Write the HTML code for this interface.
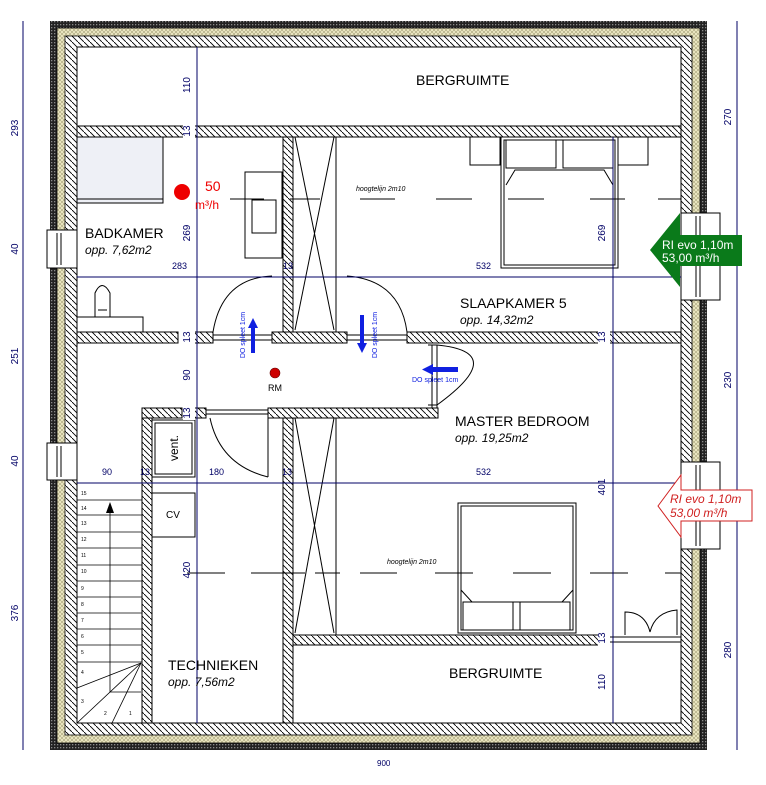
<!DOCTYPE html>
<html><head><meta charset="utf-8"><style>
html,body{margin:0;padding:0;background:#fff;}
svg{display:block;}
text{font-family:"Liberation Sans",sans-serif;}
</style></head><body>
<svg width="766" height="785" viewBox="0 0 766 785" xmlns="http://www.w3.org/2000/svg">
<defs>
<pattern id="h" patternUnits="userSpaceOnUse" width="6" height="6">
<rect width="6" height="6" fill="#fff"/>
<line x1="-1" y1="-1" x2="7" y2="7" stroke="#000" stroke-width="0.9"/>
</pattern>
<pattern id="ins" patternUnits="userSpaceOnUse" width="4" height="4">
<rect width="4" height="4" fill="#ede9c4"/>
<path d="M0 0L4 4M4 0L0 4" stroke="#a8a27a" stroke-width="0.6"/>
</pattern>
<pattern id="dk" patternUnits="userSpaceOnUse" width="3" height="3">
<rect width="3" height="3" fill="#222"/>
<rect width="1.3" height="1.3" fill="#888"/>
</pattern>
</defs>

<rect x="50" y="21" width="657" height="729" fill="url(#dk)"/>
<rect x="57" y="28" width="643" height="715" fill="url(#ins)" stroke="#000" stroke-width="0.8"/>
<rect x="65" y="36" width="627" height="699" fill="url(#h)" stroke="#000" stroke-width="0.8"/>
<rect x="77" y="47" width="604" height="676" fill="#fff" stroke="#000" stroke-width="1"/>

<g fill="#fff" stroke="#000" stroke-width="1">
<rect x="47" y="230" width="30" height="38"/><line x1="57" y1="233" x2="57" y2="265"/><line x1="61" y1="233" x2="61" y2="265"/>
<rect x="47" y="443" width="30" height="37"/><line x1="57" y1="446" x2="57" y2="477"/><line x1="61" y1="446" x2="61" y2="477"/>
<rect x="681" y="213" width="39" height="87"/><line x1="696" y1="216" x2="696" y2="297"/><line x1="700" y1="216" x2="700" y2="297"/>
<rect x="681" y="462" width="39" height="87"/><line x1="696" y1="465" x2="696" y2="546"/><line x1="700" y1="465" x2="700" y2="546"/>
</g>

<g fill="url(#h)" stroke="#000" stroke-width="1">
<rect x="77" y="126" width="604" height="11"/>
<rect x="283" y="137" width="10" height="195"/>
<rect x="77" y="332" width="101" height="11"/>
<rect x="193" y="332" width="20" height="11"/>
<rect x="272" y="332" width="75" height="11"/>
<rect x="407" y="332" width="274" height="11"/>
<rect x="193" y="408" width="13" height="10"/>
<rect x="268" y="408" width="170" height="10"/>
<rect x="142" y="408" width="40" height="10"/>
<rect x="142" y="418" width="10" height="305"/>
<rect x="283" y="418" width="10" height="305"/>
<rect x="293" y="635" width="311" height="10"/>
</g>
<g fill="none" stroke="#000" stroke-width="1">
<line x1="432" y1="345" x2="432" y2="408"/><line x1="437" y1="345" x2="437" y2="408"/>
<line x1="428" y1="345" x2="437" y2="345"/><line x1="428" y1="405" x2="437" y2="405"/>
<path d="M437 345 Q510 352 437 405"/>
<line x1="213" y1="335" x2="272" y2="335"/><line x1="213" y1="340" x2="272" y2="340"/>
<path d="M213 332 Q222 278 272 276"/>
<line x1="347" y1="335" x2="407" y2="335"/><line x1="347" y1="340" x2="407" y2="340"/>
<path d="M347 276 Q400 280 407 332"/>
<line x1="206" y1="410" x2="268" y2="410"/><line x1="206" y1="414" x2="268" y2="414"/>
<path d="M210 418 Q220 465 268 477"/><line x1="268" y1="418" x2="268" y2="477"/>
<line x1="604" y1="637" x2="681" y2="637"/><line x1="604" y1="642" x2="681" y2="642"/>
<path d="M625 635 L625 612 Q645 612 650 632 Q655 612 677 610 L677 635"/>
<rect x="293" y="137" width="43" height="195"/>
<line x1="295" y1="137" x2="334" y2="330"/><line x1="334" y1="137" x2="295" y2="330"/>
<rect x="293" y="418" width="43" height="217"/>
<line x1="295" y1="418" x2="334" y2="633"/><line x1="334" y1="418" x2="295" y2="633"/>
<rect x="77" y="137" width="86" height="66" fill="#eef0f6"/>
<line x1="77" y1="199" x2="163" y2="199"/>
<rect x="245" y="172" width="37" height="86"/><rect x="252" y="200" width="24" height="33"/>
<rect x="77" y="317" width="66" height="15"/>
<path d="M95 317 L95 293 Q102 278 110 293 L110 317 M98 310 L107 310"/>
<rect x="470" y="137" width="30" height="28"/><rect x="618" y="137" width="30" height="28"/>
<rect x="501" y="137" width="117" height="131"/><rect x="504" y="140" width="111" height="125"/>
<rect x="506" y="140" width="50" height="28"/><rect x="563" y="140" width="50" height="28"/>
<path d="M506 185 L515 170 L604 170 L613 185"/>
<rect x="458" y="503" width="118" height="130"/><rect x="461" y="506" width="112" height="124"/>
<rect x="463" y="602" width="50" height="28"/><rect x="520" y="602" width="50" height="28"/>
<path d="M461 590 L472 602 L562 602 L573 590"/>
<rect x="152" y="420" width="43" height="57"/><rect x="155" y="423" width="37" height="51"/>
<rect x="152" y="493" width="43" height="44"/>
<g stroke-width="0.8">
<line x1="77" y1="500" x2="142" y2="500"/><line x1="77" y1="515" x2="142" y2="515"/>
<line x1="77" y1="532" x2="142" y2="532"/><line x1="77" y1="548" x2="142" y2="548"/>
<line x1="77" y1="565" x2="142" y2="565"/><line x1="77" y1="581" x2="142" y2="581"/>
<line x1="77" y1="597" x2="142" y2="597"/><line x1="77" y1="613" x2="142" y2="613"/>
<line x1="77" y1="629" x2="142" y2="629"/><line x1="77" y1="645" x2="142" y2="645"/>
<line x1="77" y1="662" x2="142" y2="662"/>
<line x1="77" y1="688" x2="141" y2="663"/><line x1="77" y1="723" x2="141" y2="663"/>
<line x1="112" y1="723" x2="141" y2="663"/><line x1="110" y1="692" x2="141" y2="692"/>
<line x1="110" y1="503" x2="110" y2="692"/>
</g>
</g>
<polygon points="110,502 106,513 114,513" fill="#000"/>
<g font-size="5" fill="#000">
<text x="81" y="495">15</text><text x="81" y="510">14</text><text x="81" y="525">13</text><text x="81" y="541">12</text><text x="81" y="557">11</text><text x="81" y="573">10</text><text x="81" y="590">9</text><text x="81" y="606">8</text><text x="81" y="622">7</text><text x="81" y="638">6</text><text x="81" y="654">5</text><text x="81" y="674">4</text><text x="81" y="703">3</text><text x="104" y="715">2</text><text x="129" y="715">1</text>
</g>
<text x="174" y="452" font-size="12" transform="rotate(-90 174 448)" text-anchor="middle">vent.</text>
<text x="173" y="518" font-size="10" text-anchor="middle">CV</text>

<g stroke="#000" stroke-width="1">
<path d="M230 199 H264 M290 199 H320 M360 199 H395 M436 199 H472 M508 199 H544 M590 199 H625 M658 199 H681" fill="none"/>
<path d="M187 573 H225 M251 573 H305 M315 573 H340 M360 573 H397 M435 573 H473 M513 573 H551 M590 573 H628 M665 573 H681" fill="none"/>
</g>
<text x="356" y="191" font-size="7" font-style="italic">hoogtelijn 2m10</text>
<text x="387" y="564" font-size="7" font-style="italic">hoogtelijn 2m10</text>

<g stroke="#000066" stroke-width="1" fill="none">
<line x1="23" y1="21" x2="23" y2="750"/>
<line x1="737" y1="21" x2="737" y2="750"/>
<line x1="197" y1="47" x2="197" y2="723"/>
<line x1="613" y1="137" x2="613" y2="723"/>
<line x1="77" y1="277" x2="681" y2="277"/>
<line x1="77" y1="483" x2="681" y2="483"/>
</g>
<g fill="#fff">
<rect x="183" y="124" width="12" height="15"/>
<rect x="183" y="330" width="12" height="15"/>
<rect x="183" y="406" width="12" height="14"/>
<rect x="598" y="330" width="12" height="15"/>
<rect x="598" y="631" width="12" height="15"/>
</g>
<g fill="#000066" font-size="10">
<text x="18" y="128" transform="rotate(-90 18 128)" text-anchor="middle">293</text>
<text x="18" y="249" transform="rotate(-90 18 249)" text-anchor="middle">40</text>
<text x="18" y="356" transform="rotate(-90 18 356)" text-anchor="middle">251</text>
<text x="18" y="461" transform="rotate(-90 18 461)" text-anchor="middle">40</text>
<text x="18" y="613" transform="rotate(-90 18 613)" text-anchor="middle">376</text>
<text x="731" y="117" transform="rotate(-90 731 117)" text-anchor="middle">270</text>
<text x="731" y="380" transform="rotate(-90 731 380)" text-anchor="middle">230</text>
<text x="731" y="650" transform="rotate(-90 731 650)" text-anchor="middle">280</text>
<text x="377" y="766" font-size="8">900</text>
<text x="190" y="85" transform="rotate(-90 190 85)" text-anchor="middle">110</text>
<text x="190" y="131" transform="rotate(-90 190 131)" text-anchor="middle">13</text>
<text x="190" y="233" transform="rotate(-90 190 233)" text-anchor="middle">269</text>
<text x="190" y="337" transform="rotate(-90 190 337)" text-anchor="middle">13</text>
<text x="190" y="375" transform="rotate(-90 190 375)" text-anchor="middle">90</text>
<text x="190" y="413" transform="rotate(-90 190 413)" text-anchor="middle">13</text>
<text x="190" y="570" transform="rotate(-90 190 570)" text-anchor="middle">420</text>
<text x="605" y="233" transform="rotate(-90 605 233)" text-anchor="middle">269</text>
<text x="605" y="337" transform="rotate(-90 605 337)" text-anchor="middle">13</text>
<text x="605" y="487" transform="rotate(-90 605 487)" text-anchor="middle">401</text>
<text x="605" y="638" transform="rotate(-90 605 638)" text-anchor="middle">13</text>
<text x="605" y="682" transform="rotate(-90 605 682)" text-anchor="middle">110</text>
<g font-size="9">
<text x="172" y="269">283</text><text x="283" y="269">13</text><text x="476" y="269">532</text>
<text x="102" y="475">90</text><text x="140" y="475">13</text><text x="209" y="475">180</text><text x="282" y="475">13</text><text x="476" y="475">532</text>
</g>
</g>

<g font-size="14" fill="#000">
<text x="416" y="85">BERGRUIMTE</text>
<text x="449" y="678">BERGRUIMTE</text>
<text x="85" y="238">BADKAMER</text>
<text x="460" y="308">SLAAPKAMER 5</text>
<text x="455" y="426">MASTER BEDROOM</text>
<text x="168" y="670">TECHNIEKEN</text>
</g>
<g font-size="12" font-style="italic" fill="#000">
<text x="85" y="254">opp. 7,62m2</text>
<text x="460" y="324">opp. 14,32m2</text>
<text x="455" y="442">opp. 19,25m2</text>
<text x="168" y="686">opp. 7,56m2</text>
</g>

<circle cx="182" cy="192" r="8" fill="#e00"/>
<text x="205" y="191" font-size="14" fill="#e00">50</text>
<text x="195" y="209" font-size="12" fill="#e00">m³/h</text>
<circle cx="275" cy="373" r="5" fill="#c00" stroke="#600" stroke-width="0.6"/>
<text x="268" y="391" font-size="9">RM</text>

<g fill="#1020e0">
<rect x="251" y="327" width="4" height="26"/><polygon points="253,318 248,328 258,328"/>
<rect x="360" y="315" width="4" height="28"/><polygon points="362,353 357,343 367,343"/>
<rect x="432" y="367" width="26" height="5"/><polygon points="422,369.5 433,364 433,375"/>
</g>
<g fill="#1020e0" font-size="7">
<text x="245" y="335" transform="rotate(-90 245 335)" text-anchor="middle">DO spleet 1cm</text>
<text x="377" y="335" transform="rotate(-90 377 335)" text-anchor="middle">DO spleet 1cm</text>
<text x="412" y="382">DO spleet 1cm</text>
</g>

<polygon points="650,250 680,213 680,235 742,235 742,266 680,266 680,287" fill="#0a7a1a"/>
<text x="662" y="249" font-size="12" fill="#fff">RI evo 1,10m</text>
<text x="662" y="262" font-size="12" fill="#fff">53,00 m³/h</text>
<polygon points="658,506 681,475 681,490 752,490 752,521 681,521 681,537" fill="#fff" stroke="#d02020" stroke-width="1"/>
<text x="670" y="503" font-size="12" font-style="italic" fill="#d02020">RI evo 1,10m</text>
<text x="670" y="517" font-size="12" font-style="italic" fill="#d02020">53,00 m³/h</text>
</svg>
</body></html>
